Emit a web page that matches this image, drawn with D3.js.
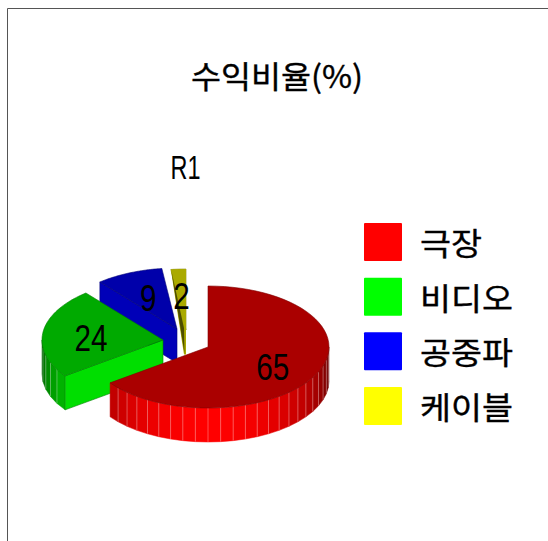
<!DOCTYPE html>
<html>
<head>
<meta charset="utf-8">
<script src="https://cdn.jsdelivr.net/npm/d3@7"></script>
<style>
html, body { margin: 0; padding: 0; background: #fff; overflow: hidden; }
text { font-family: "Noto Sans CJK KR", sans-serif; fill: #000; }
.kor { stroke: #000; stroke-width: 0.35; }
.num { font-family: "Liberation Sans", sans-serif; }
</style>
</head>
<body>
<script>
// exploded 3d pie drawn by hand with d3.pie

var categories = ["극장", "비디오", "공중파", "케이블"];
var values = [65, 24, 9, 2];
var baseColors = [[255, 0, 0], [0, 255, 0], [0, 0, 255], [255, 255, 0]];
var chartTitle = "수익비율(%)";
var pieName = "R1";

//chart frame dimensions
var width = 548,
    height = 541;

//pie geometry
var cx = 208, cy = 347,
    rx = 121, ry = 61,
    depth = 34;

//how far each slice is pulled out from the center, and wall facets per slice
var explodeX = [0, -45, -31, -22],
    explodeY = [0, -7, -18, -17],
    facetCount = [39, 12, 5, 1];

var x = d3.scaleLinear().domain([-1, 1]).range([-rx, rx]);
var y = d3.scaleLinear().domain([-1, 1]).range([-ry, ry]);

var svg = d3.select("body")
    .append("svg")
    .attr("width", width)
    .attr("height", height)
    .style("display", "block");

//frame, only top and left are visible
svg.append("path")
    .attr("d", d3.line()([[7.5, height], [7.5, 8.5], [width, 8.5]]))
    .attr("fill", "none")
    .attr("stroke", "#555")
    .attr("stroke-width", 1);

svg.append("text")
    .attr("class", "kor")
    .attr("x", 277)
    .attr("y", 88)
    .attr("text-anchor", "middle")
    .attr("font-size", 31)
    .attr("textLength", 172)
    .attr("lengthAdjust", "spacingAndGlyphs")
    .text(chartTitle);

svg.append("text")
    .attr("class", "num")
    .attr("x", 185.5)
    .attr("y", 179)
    .attr("text-anchor", "middle")
    .attr("font-size", 33)
    .attr("textLength", 30)
    .attr("lengthAdjust", "spacingAndGlyphs")
    .text(pieName);

var arcs = d3.pie().sort(null).startAngle(0).endAngle(2 * Math.PI)(values);

function colorAt(c, k){
    return d3.rgb(c[0] * k, c[1] * k, c[2] * k).formatRgb();
}

//wall brightness, the light sits at the bottom of the picture
function wallShade(a){
    return Math.min(1, 0.35 + 0.65 * Math.max(0, -Math.cos(a)));
}

function project(i, a, r){
    return [cx + explodeX[i] + x(Math.sin(a) * r), cy + explodeY[i] + y(-Math.cos(a) * r)];
}

function down(p){
    return [p[0], p[1] + depth];
}

var line = d3.line();
var chart = svg.append("g");

//back slices first so the red one ends up on top
d3.range(arcs.length - 1, -1, -1).forEach(function(i){
    var d = arcs[i],
        c = baseColors[i],
        g = chart.append("g").attr("class", "slice");

    var apex = project(i, 0, 0),
        outerStart = project(i, d.startAngle, 1),
        outerEnd = project(i, d.endAngle, 1);

    //outer wall facets
    var step = (d.endAngle - d.startAngle) / facetCount[i];
    d3.range(facetCount[i]).forEach(function(k){
        var a0 = d.startAngle + k * step,
            a1 = a0 + step,
            mid = (a0 + a1) / 2;
        if (a0 >= 3 * Math.PI / 2 || a1 <= Math.PI / 2) return;
        a0 = Math.max(a0, Math.PI / 2);
        a1 = Math.min(a1, 3 * Math.PI / 2);
        var p0 = project(i, a0, 1),
            p1 = project(i, a1, 1);
        g.append("path")
            .attr("d", line([p0, p1, down(p1), down(p0)]) + "Z")
            .attr("fill", colorAt(c, wallShade(mid)))
            .attr("stroke", colorAt(c, wallShade(mid)))
            .attr("stroke-width", 0.5);
        if (k > 0){
            g.append("path")
                .attr("d", line([p0, down(p0)]))
                .attr("stroke", "#fff")
                .attr("stroke-opacity", 0.4)
                .attr("stroke-width", 0.8);
        }
    });

    //cut walls, blue and green show the one along their start angle
    if (i == 1 || i == 2){
        g.append("path")
            .attr("d", line([outerStart, apex, down(apex), down(outerStart)]) + "Z")
            .attr("fill", colorAt(c, i == 1 ? 0.87 : 0.72))
            .attr("stroke", colorAt(c, 0.5))
            .attr("stroke-width", 0.6);
    }

    //top face
    var topPoints = [apex].concat(d3.range(0, 61).map(function(k){
        return project(i, d.startAngle + (d.endAngle - d.startAngle) * k / 60, 1);
    }));
    g.append("path")
        .attr("d", line(topPoints) + "Z")
        .attr("fill", colorAt(c, 0.667))
        .attr("stroke", colorAt(c, i == 2 ? 0.45 : 0.5))
        .attr("stroke-width", 0.6);

    if (i == 3){
        //the thin slice: wall seen nearly edge on, olive with a dark core
        var tip = [apex[0], apex[1] + depth * 0.72],
            inner = [apex[0] - 2, apex[1] - 2];
        g.append("path")
            .attr("d", line([outerStart, outerEnd, tip, [tip[0] - 2, tip[1]]]) + "Z")
            .attr("fill", colorAt(c, 0.667));
        g.append("path")
            .attr("d", line([[outerStart[0] + 0.5, outerStart[1] + 1], inner, [tip[0] - 1.5, tip[1] - 1]]) + "Z")
            .attr("fill", colorAt(c, 0.3));
    }
});

//value labels sit on top of every slice
arcs.forEach(function(d, i){
    var mid = (d.startAngle + d.endAngle) / 2,
        p = project(i, mid, 0.6);
    svg.append("text")
        .attr("class", "num")
        .attr("x", p[0])
        .attr("y", p[1] + 16)
        .attr("text-anchor", "middle")
        .attr("font-size", 37)
        .attr("textLength", String(values[i]).length * 16.5)
        .attr("lengthAdjust", "spacingAndGlyphs")
        .text(values[i]);
});

//legend
var legendY = d3.scalePoint().domain(categories).range([223, 387]);
var legend = svg.selectAll(".legend")
    .data(categories)
    .enter()
    .append("g")
    .attr("class", "legend")
    .attr("transform", function(d){ return "translate(364," + legendY(d) + ")"; });

legend.append("rect")
    .attr("width", 38)
    .attr("height", 38)
    .attr("rx", 1)
    .attr("fill", function(d, i){ return colorAt(baseColors[i], 1); });

legend.append("text")
    .attr("class", "kor")
    .attr("x", 56)
    .attr("y", 32)
    .attr("font-size", 31)
    .attr("textLength", function(d){ return d.length * 31; })
    .attr("lengthAdjust", "spacingAndGlyphs")
    .text(function(d){ return d; });
</script>
</body>
</html>
